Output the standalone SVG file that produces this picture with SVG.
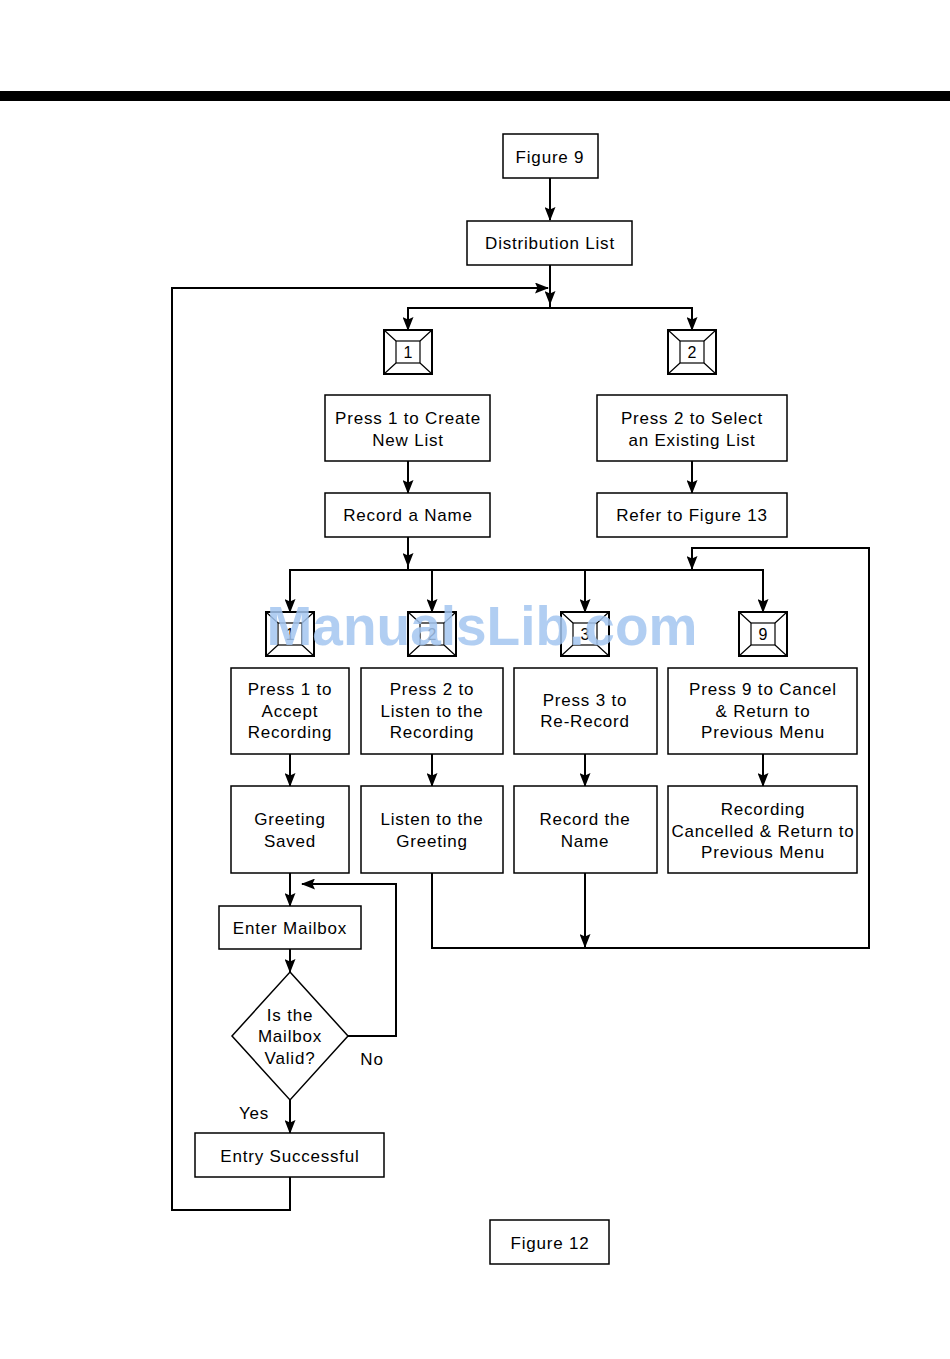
<svg xmlns="http://www.w3.org/2000/svg" width="950" height="1359" viewBox="0 0 950 1359">
<defs>
<style>
.box{fill:#fff;stroke:#000;stroke-width:1.5}
.t{font-family:"Liberation Sans",Arial,sans-serif;font-size:17px;letter-spacing:0.8px;fill:#000;text-anchor:middle}
.k{font-family:"Liberation Sans",Arial,sans-serif;font-size:16px;fill:#000;text-anchor:middle}
.ln{fill:none;stroke:#000;stroke-width:2}
.ko{fill:#fff;stroke:#000;stroke-width:2}
.ki{fill:none;stroke:#000;stroke-width:1.2}
.wm{font-family:"Liberation Sans",Arial,sans-serif;font-size:55px;font-weight:bold;fill:#a3c6f0;fill-opacity:0.85;text-anchor:middle}
</style>
<marker id="ah" viewBox="0 0 15 11" refX="14" refY="5.5" markerWidth="15" markerHeight="11" markerUnits="userSpaceOnUse" orient="auto">
<path d="M15,5.5 L6,2 L1,0 L3.5,5.5 L1,11 L6,9 Z" fill="#000"/>
</marker>
<g id="key">
<rect class="ko" x="0" y="0" width="48" height="44"/>
<rect class="ki" x="12" y="11" width="24" height="22"/>
<path class="ki" d="M0,0 L12,11 M48,0 L36,11 M0,44 L12,33 M48,44 L36,33"/>
</g>
</defs>
<rect x="0" y="0" width="950" height="1359" fill="#fff"/>
<rect x="0" y="91" width="950" height="10" fill="#000"/>

<g id="connectors">
<path class="ln" d="M550,178 V220" marker-end="url(#ah)"/>
<path class="ln" d="M550,265 V308"/>
<path class="ln" d="M550,265 V304" marker-end="url(#ah)"/>
<path class="ln" d="M290,1177 V1210 H172 V288 H548" marker-end="url(#ah)"/>
<path class="ln" d="M550,308 H408 V330" marker-end="url(#ah)"/>
<path class="ln" d="M550,308 H692 V330" marker-end="url(#ah)"/>
<path class="ln" d="M408,461 V493" marker-end="url(#ah)"/>
<path class="ln" d="M692,461 V493" marker-end="url(#ah)"/>
<path class="ln" d="M408,537 V570"/>
<path class="ln" d="M408,537 V566" marker-end="url(#ah)"/>
<path class="ln" d="M408,570 H290 V612" marker-end="url(#ah)"/>
<path class="ln" d="M408,570 H432 V612" marker-end="url(#ah)"/>
<path class="ln" d="M408,570 H585 V612" marker-end="url(#ah)"/>
<path class="ln" d="M585,570 H763 V612" marker-end="url(#ah)"/>
<path class="ln" d="M432,873 V948 H869 V548 H692 V569" marker-end="url(#ah)"/>
<path class="ln" d="M585,873 V947" marker-end="url(#ah)"/>
<path class="ln" d="M290,754 V786" marker-end="url(#ah)"/>
<path class="ln" d="M432,754 V786" marker-end="url(#ah)"/>
<path class="ln" d="M585,754 V786" marker-end="url(#ah)"/>
<path class="ln" d="M763,754 V786" marker-end="url(#ah)"/>
<path class="ln" d="M290,873 V906" marker-end="url(#ah)"/>
<path class="ln" d="M290,949 V972" marker-end="url(#ah)"/>
<path class="ln" d="M348,1036 H396 V884 H302" marker-end="url(#ah)"/>
<path class="ln" d="M290,1100 V1133" marker-end="url(#ah)"/>
</g>

<g id="fig9"><rect class="box" x="503" y="134" width="95" height="44"/><text class="t" x="550" y="163">Figure 9</text></g>
<g id="distlist"><rect class="box" x="467" y="221" width="165" height="44"/><text class="t" x="550" y="249">Distribution List</text></g>

<g id="key1a"><use href="#key" x="384" y="330"/><text class="k" x="408" y="358">1</text></g>
<g id="key2a"><use href="#key" x="668" y="330"/><text class="k" x="692" y="358">2</text></g>

<g id="press1"><rect class="box" x="325" y="395" width="165" height="66"/><text class="t" x="408" y="424">Press 1 to Create</text><text class="t" x="408" y="446">New List</text></g>
<g id="press2"><rect class="box" x="597" y="395" width="190" height="66"/><text class="t" x="692" y="424">Press 2 to Select</text><text class="t" x="692" y="446">an Existing List</text></g>
<g id="recname"><rect class="box" x="325" y="493" width="165" height="44"/><text class="t" x="408" y="521">Record a Name</text></g>
<g id="refer13"><rect class="box" x="597" y="493" width="190" height="44"/><text class="t" x="692" y="521">Refer to Figure 13</text></g>

<g id="key1b"><use href="#key" x="266" y="612"/><text class="k" x="290" y="640">1</text></g>
<g id="key2b"><use href="#key" x="408" y="612"/><text class="k" x="432" y="640">2</text></g>
<g id="key3b"><use href="#key" x="561" y="612"/><text class="k" x="585" y="640">3</text></g>
<g id="key9b"><use href="#key" x="739" y="612"/><text class="k" x="763" y="640">9</text></g>

<g id="accept"><rect class="box" x="231" y="668" width="118" height="86"/><text class="t" x="290" y="695">Press 1 to</text><text class="t" x="290" y="717">Accept</text><text class="t" x="290" y="738">Recording</text></g>
<g id="listen"><rect class="box" x="361" y="668" width="142" height="86"/><text class="t" x="432" y="695">Press 2 to</text><text class="t" x="432" y="717">Listen to the</text><text class="t" x="432" y="738">Recording</text></g>
<g id="rerecord"><rect class="box" x="514" y="668" width="143" height="86"/><text class="t" x="585" y="706">Press 3 to</text><text class="t" x="585" y="727">Re-Record</text></g>
<g id="cancel"><rect class="box" x="668" y="668" width="189" height="86"/><text class="t" x="763" y="695">Press 9 to Cancel</text><text class="t" x="763" y="717">&amp; Return to</text><text class="t" x="763" y="738">Previous Menu</text></g>

<g id="saved"><rect class="box" x="231" y="786" width="118" height="87"/><text class="t" x="290" y="825">Greeting</text><text class="t" x="290" y="847">Saved</text></g>
<g id="listengreet"><rect class="box" x="361" y="786" width="142" height="87"/><text class="t" x="432" y="825">Listen to the</text><text class="t" x="432" y="847">Greeting</text></g>
<g id="recordname"><rect class="box" x="514" y="786" width="143" height="87"/><text class="t" x="585" y="825">Record the</text><text class="t" x="585" y="847">Name</text></g>
<g id="cancelled"><rect class="box" x="668" y="786" width="189" height="87"/><text class="t" x="763" y="815">Recording</text><text class="t" x="763" y="837">Cancelled &amp; Return to</text><text class="t" x="763" y="858">Previous Menu</text></g>

<g id="mailbox"><rect class="box" x="219" y="906" width="142" height="43"/><text class="t" x="290" y="934">Enter Mailbox</text></g>
<g id="valid"><path class="box" d="M290,972 L348,1036 L290,1100 L232,1036 Z"/><text class="t" x="290" y="1021">Is the</text><text class="t" x="290" y="1042">Mailbox</text><text class="t" x="290" y="1064">Valid?</text></g>
<text class="t" x="372" y="1065">No</text>
<text class="t" x="254" y="1119">Yes</text>
<g id="success"><rect class="box" x="195" y="1133" width="189" height="44"/><text class="t" x="290" y="1162">Entry Successful</text></g>
<g id="fig12"><rect class="box" x="490" y="1220" width="119" height="44"/><text class="t" x="550" y="1249">Figure 12</text></g>

<text class="wm" x="482" y="645">ManualsLib.com</text>
</svg>
